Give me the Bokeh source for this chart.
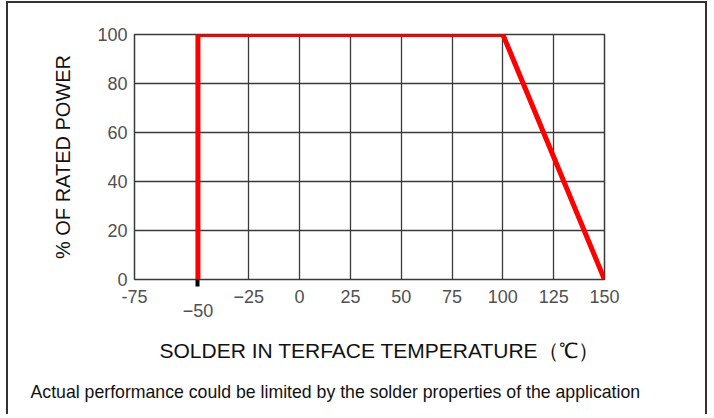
from bokeh.plotting import figure
from bokeh.models import FixedTicker, Range1d, LinearAxis, Title
from bokeh.embed import file_html
from bokeh.resources import INLINE

# data
temps = [-50, -50, 100, 150]
power = [0, 100, 100, 0]
x_start, x_end = -81.2, 150
x_ticks = [-75, -50, -25, 0, 25, 50, 75, 100, 125, 150]
y_ticks = [0, 20, 40, 60, 80, 100]
x_title = "SOLDER IN TERFACE TEMPERATURE（℃）"
y_title = "% OF RATED POWER"
note = "Actual performance could be limited by the solder properties of the application"

FONT = "Liberation Sans"
GRID = "#3a3a3a"
TICKCOL = "#505050"

p = figure(width=701, height=413, output_backend="svg", toolbar_location=None,
           x_range=Range1d(x_start, x_end), y_range=Range1d(0, 100),
           x_axis_location=None,
           min_border_left=126, min_border_top=31, min_border_right=105, min_border_bottom=137)
p.styles = {"margin-left": "6px", "margin-top": "1px",
            "border-top": "2px solid #333", "border-left": "2px solid #333",
            "border-right": "2px solid #333"}

def plain_axis(ax):
    ax.axis_line_color = None
    ax.major_tick_line_color = None
    ax.minor_tick_line_color = None
    ax.major_label_text_font = FONT
    ax.major_label_text_font_size = "18px"
    ax.major_label_text_color = TICKCOL
    ax.axis_label_text_font = FONT
    ax.axis_label_text_font_style = "normal"
    ax.axis_label_text_font_size = "20px"
    ax.axis_label_text_color = "#111111"

# axis A: black pointer at -50 with its staggered label
ax_mark = LinearAxis(ticker=FixedTicker(ticks=[x_ticks[1]]))
plain_axis(ax_mark)
ax_mark.major_tick_line_color = "black"
ax_mark.major_tick_line_width = 4
ax_mark.major_tick_out = 7
ax_mark.major_tick_in = 0
ax_mark.major_label_standoff = 17
p.add_layout(ax_mark, "below")

# axis B: main tick labels (-75 sits at the left edge of the grid)
shown = [x_start] + x_ticks[2:]
ax_main = LinearAxis(ticker=FixedTicker(ticks=shown))
plain_axis(ax_main)
ax_main.major_label_overrides = {x_start: str(x_ticks[0])}
ax_main.major_label_standoff = -36
p.add_layout(ax_main, "below")

# x title and footnote
xt = Title(text=x_title, align="left", text_font=FONT, text_font_size="21px",
           text_font_style="normal", text_color="#111111", offset=25, standoff=34)
p.add_layout(xt, "below")
foot = Title(text=note, align="left", text_font=FONT, text_font_size="17.7px",
             text_font_style="normal", text_color="#111111", offset=-104, standoff=2)
p.add_layout(foot, "below")

p.yaxis.ticker = FixedTicker(ticks=y_ticks)
plain_axis(p.yaxis[0])
p.yaxis.major_label_standoff = 1
p.yaxis.axis_label = y_title
p.yaxis.axis_label_standoff = 20

p.xgrid.ticker = FixedTicker(ticks=x_ticks[1:])
p.ygrid.ticker = FixedTicker(ticks=y_ticks)
for g in (p.xgrid[0], p.ygrid[0]):
    g.grid_line_color = GRID
    g.grid_line_width = 1.3
p.outline_line_color = GRID
p.outline_line_width = 1.5
p.background_fill_color = "white"
p.border_fill_color = "white"

p.line(temps, power, line_color="#ff0000", line_width=5, line_join="miter")

open("out.html", "w").write(file_html(p, INLINE))
